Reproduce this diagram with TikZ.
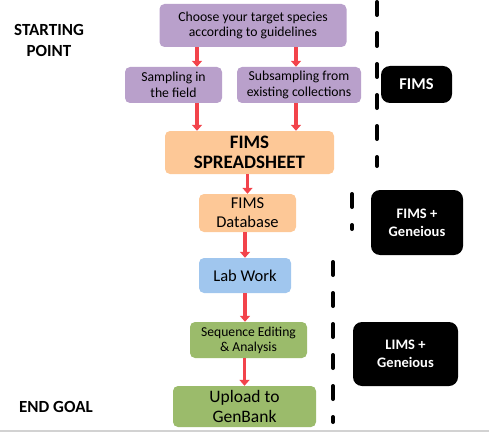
\documentclass[tikz,border=0pt]{standalone}
\usepackage{fontspec}
\setmainfont{Carlito}
\usetikzlibrary{arrows.meta}
\definecolor{sampleviolet}{HTML}{B9A0CB}
\definecolor{fimsorange}{HTML}{FDC897}
\definecolor{labblue}{HTML}{A0C6EE}
\definecolor{seqgreen}{HTML}{9BBB6B}
\definecolor{flowred}{HTML}{F2434B}
\tikzset{
  stage/.style={rounded corners=5pt, inner sep=0pt, align=center},
  tool/.style={fill=black, text=white, rounded corners=9pt, inner sep=0pt, align=center,
               font=\bfseries\fontsize{14.5}{18}\selectfont},
  flow/.style={draw=flowred, line width=3.5pt, -{Triangle[width=10pt,length=6pt]}},
  phase/.style={line width=4pt, line cap=round, dash pattern=on 13pt off 18pt},
}
\begin{document}
\begin{tikzpicture}
\useasboundingbox (0pt,0pt) rectangle (489pt,-433pt); % fix the frame
\draw [gray!35, line width=1.5pt] (0pt,-431pt) -- (489pt,-431pt);
% side labels
\node (start) at (49pt,-40pt) [align=center, font=\bfseries\fontsize{17}{21}\selectfont] {STARTING\\POINT};
\node (goal) at (56pt,-407pt) [font=\bfseries\fontsize{17}{20}\selectfont] {END GOAL};
% workflow stages
\node (choose) at (253pt,-25.5pt) [stage, fill=sampleviolet, minimum width=187pt, minimum height=43pt,
      font=\fontsize{13.7}{15.5}\selectfont] {Choose your target species\\according to guidelines};
\node (field) at (173.5pt,-85pt) [stage, fill=sampleviolet, minimum width=97pt, minimum height=36pt,
      font=\fontsize{13.7}{15.5}\selectfont] {Sampling in\\the field};
\node (subsample) at (299pt,-85pt) [stage, fill=sampleviolet, minimum width=124pt, minimum height=36pt,
      font=\fontsize{13.7}{15.5}\selectfont] {Subsampling from\\existing collections};
\node (sheet) at (249.5pt,-152.5pt) [stage, fill=fimsorange, minimum width=169pt, minimum height=43pt,
      font=\bfseries\fontsize{19}{20}\selectfont] {FIMS\\SPREADSHEET};
\node (db) at (247.5pt,-213pt) [stage, fill=fimsorange, minimum width=97pt, minimum height=38pt,
      font=\fontsize{16.5}{19}\selectfont] {FIMS\\Database};
\node (lab) at (245pt,-275.5pt) [stage, fill=labblue, minimum width=92pt, minimum height=35pt,
      font=\fontsize{16.5}{18}\selectfont] {Lab Work};
\node (seq) at (248.5pt,-340pt) [stage, fill=seqgreen, minimum width=117pt, minimum height=36pt,
      font=\fontsize{13.6}{15}\selectfont] {Sequence Editing\\\& Analysis};
\node (upload) at (244.5pt,-406.5pt) [stage, fill=seqgreen, minimum width=143pt, minimum height=41pt,
      font=\fontsize{17.5}{20}\selectfont] {Upload to\\GenBank};
% tools
\node (fims) at (416.5pt,-84.5pt) [tool, minimum width=71pt, minimum height=37pt,
      font=\bfseries\fontsize{16.5}{18}\selectfont] {FIMS};
\node (fimsgen) at (417pt,-222.5pt) [tool, minimum width=92pt, minimum height=65pt] {FIMS +\\Geneious};
\node (limsgen) at (405.5pt,-354pt) [tool, minimum width=105pt, minimum height=64pt] {LIMS +\\Geneious};
% arrows
\coordinate (lx) at (197pt,0pt);
\coordinate (rx) at (296pt,0pt);
\draw [flow] (choose.south -| lx) -- (field.north -| lx);
\draw [flow] (choose.south -| rx) -- (subsample.north -| rx);
\draw [flow] (field.south -| lx) -- (sheet.north -| lx);
\draw [flow] (subsample.south -| rx) -- (sheet.north -| rx);
\draw [flow] (sheet.south -| db.north) -- (db.north);
\draw [flow] (db.south -| lab.north) -- (lab.north);
\draw [flow] (lab.south) -- (lab.south |- seq.north);
\draw [flow] (seq.south -| upload.north) -- (upload.north);
% phase separators
\draw [phase] (377pt,-2pt) -- (377pt,-166pt);
\draw [phase] (352pt,-194pt) -- (352pt,-229pt);
\draw [phase] (333pt,-262pt) -- (333pt,-422pt);
\end{tikzpicture}
\end{document}
